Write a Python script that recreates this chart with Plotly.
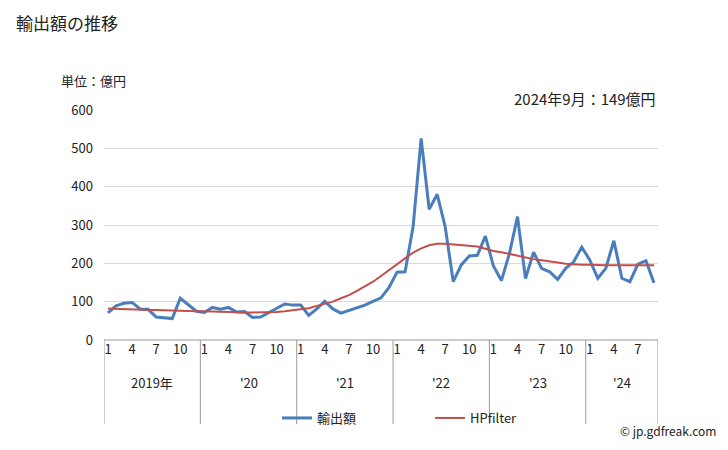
import plotly.graph_objects as go

years = [2019, 2020, 2021, 2022, 2023, 2024]
year_labels = ["2019年", "'20", "'21", "'22", "'23", "'24"]
months_per_year = [12, 12, 12, 12, 12, 9]

export_values = [
    71, 89, 96, 98, 81, 80, 60, 58, 56, 109, 91, 75,
    72, 85, 80, 85, 73, 74, 59, 60, 71, 83, 94, 91,
    91, 64, 81, 101, 81, 70, 77, 83, 91, 101, 110, 137,
    177, 178, 296, 526, 341, 380, 295, 152, 196, 219, 221, 271,
    193, 155, 226, 322, 160, 229, 187, 178, 158, 187, 204, 242,
    209, 161, 187, 259, 161, 152, 198, 207, 149,
]
hp_values = [
    82, 81, 80, 79, 79, 78, 78, 77, 77, 76, 76, 75,
    75, 74, 74, 73, 73, 72, 72, 72, 72, 73, 75, 78,
    80, 83, 89, 94, 100, 109, 117, 128, 139, 152, 167, 183,
    199, 213, 228, 239, 247, 251, 251, 249, 247, 246, 244, 238,
    232, 229, 224, 219, 215, 211, 208, 204, 202, 199, 197, 196,
    196, 195, 195, 195, 195, 195, 195, 195, 195,
]
tick_months = [1, 4, 7, 10]

FONT = "Noto Sans CJK JP"

months = []
for y, n in zip(years, months_per_year):
    for m in range(1, n + 1):
        months.append(m)
x = list(range(len(export_values)))

tickvals = [i for i, m in enumerate(months) if m in tick_months]
ticktext = [str(months[i]) for i in tickvals]

fig = go.Figure()
fig.add_trace(go.Scatter(x=x, y=export_values, mode="lines", name="輸出額",
                         line=dict(color="#4a7ebb", width=3)))
fig.add_trace(go.Scatter(x=x, y=hp_values, mode="lines", name="HPfilter",
                         line=dict(color="#c0504d", width=2)))

H = 230.0  # plot height in px
W = 554.0  # plot width in px
def py(px):
    return (340 - px) / H
def pxp(px):
    return (px - 104) / W

shapes = []
annotations = []
start = 0
bounds = [-0.5]
for yl, n in zip(year_labels, months_per_year):
    end = start + n
    bounds.append(end - 0.5)
    annotations.append(dict(x=(start + end - 1) / 2, y=py(382), xref="x", yref="paper",
                            text=yl, showarrow=False, font=dict(size=13, color="#222"),
                            xanchor="center", yanchor="middle"))
    start = end
for b in bounds:
    shapes.append(dict(type="line", xref="x", yref="paper", x0=b, x1=b, y0=0, y1=py(424),
                       line=dict(color="#9a9a9a", width=1)))
shapes.append(dict(type="line", xref="paper", yref="paper", x0=0, x1=1, y0=0, y1=0,
                   line=dict(color="#9a9a9a", width=1)))

annotations.append(dict(x=pxp(14), y=py(22), xref="paper", yref="paper", text="輸出額の推移",
                        showarrow=False, xanchor="left", yanchor="middle",
                        font=dict(size=17, color="#222")))
annotations.append(dict(x=pxp(59), y=py(80), xref="paper", yref="paper", text="単位：億円",
                        showarrow=False, xanchor="left", yanchor="middle",
                        font=dict(size=13, color="#222")))
annotations.append(dict(x=1, y=py(98), xref="paper", yref="paper", text="2024年9月：149億円",
                        showarrow=False, xanchor="right", yanchor="middle",
                        font=dict(size=15, color="#222")))
annotations.append(dict(x=pxp(718), y=py(430), xref="paper", yref="paper",
                        text="© jp.gdfreak.com", showarrow=False, xanchor="right",
                        yanchor="middle", font=dict(size=12, color="#222")))

fig.update_layout(
    width=728, height=450,
    margin=dict(l=104, r=70, t=110, b=110),
    paper_bgcolor="white", plot_bgcolor="white",
    font=dict(family=FONT, size=13, color="#222"),
    showlegend=True,
    legend=dict(orientation="h", x=pxp(277), y=py(418), xanchor="left",
                yanchor="middle", entrywidth=108, entrywidthmode="pixels",
                font=dict(size=13), bgcolor="rgba(0,0,0,0)"),
    xaxis=dict(range=[-0.5, len(x) - 0.5], tickvals=tickvals, ticktext=ticktext,
               showgrid=False, zeroline=False, showline=False, ticks="",
               tickfont=dict(size=13)),
    yaxis=dict(range=[0, 600], dtick=100, showgrid=True, gridcolor="#d9d9d9",
               gridwidth=1, zeroline=False, showline=False, ticks="",
               tickfont=dict(size=13), ticklabelstandoff=10),
    shapes=shapes, annotations=annotations,
)

fig.write_html("out.html")
